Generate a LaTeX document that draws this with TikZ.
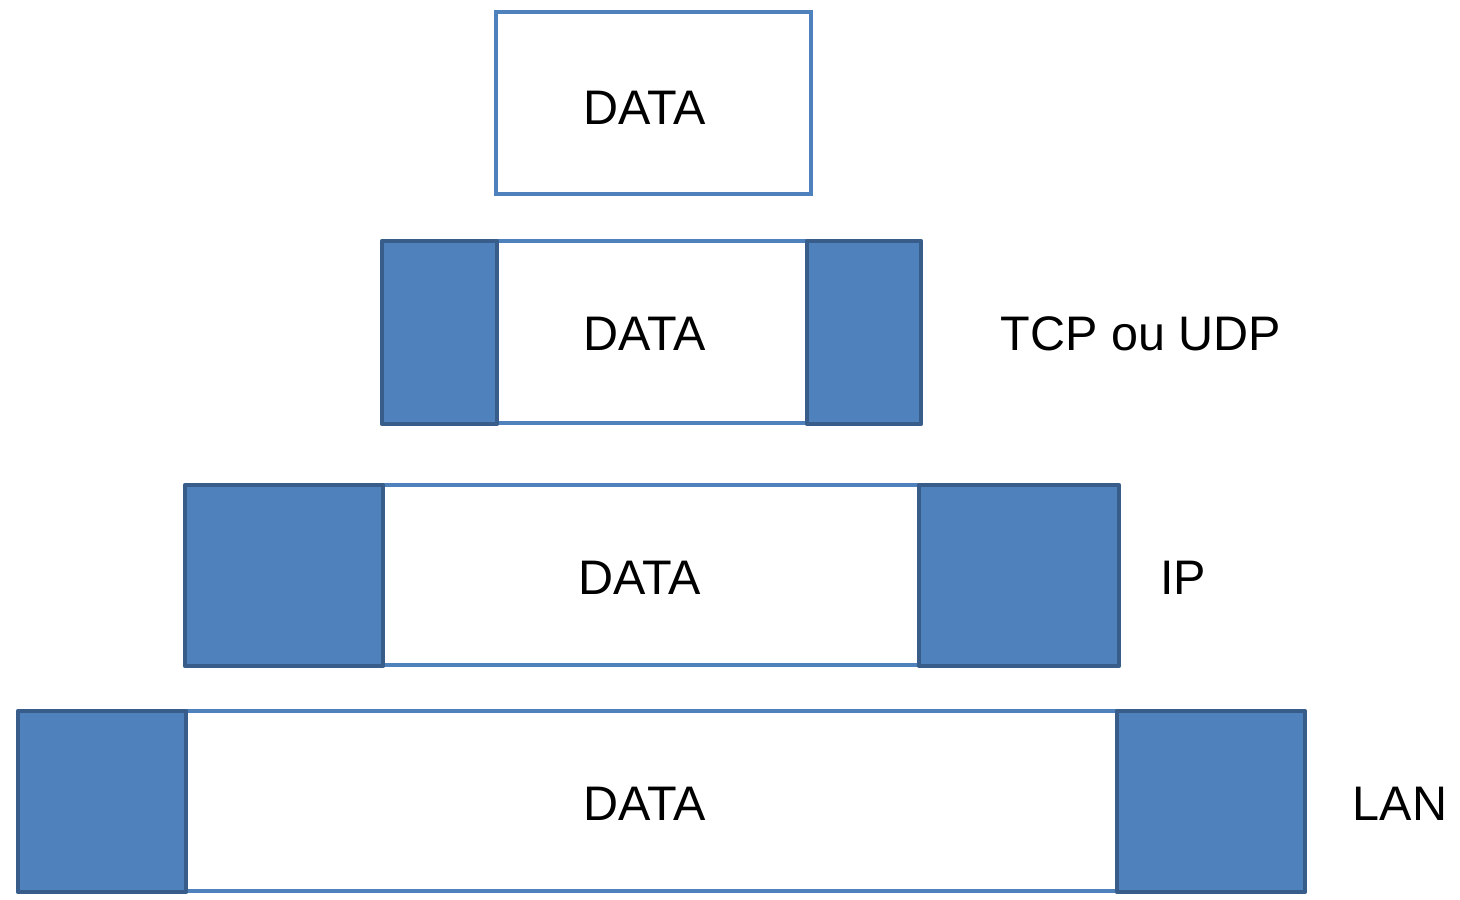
\documentclass[tikz,border=0pt]{standalone}
\usepackage{fontspec}
\setmainfont{Liberation Sans}
\definecolor{fillblue}{HTML}{4F81BD}
\definecolor{darkblue}{HTML}{385D8A}
\begin{document}
\begin{tikzpicture}[x=1pt,y=-1pt,
  databox/.style={draw=fillblue,line width=3.5pt,fill=white},
  hdrbox/.style={draw=darkblue,line width=4.5pt,fill=fillblue,line join=round},
  txt/.style={font=\fontsize{48.5}{58}\selectfont,anchor=base,inner sep=0pt}]
\useasboundingbox (0,0) rectangle (1460,900);
% row 1
\draw[databox] (496,12) rectangle (811,194);
\node[txt] (d1) at (645,124) {DATA};
% row 2
\draw[databox] (497,241) rectangle (807,423);
\draw[hdrbox] (382,241) rectangle (497,424);
\draw[hdrbox] (807,241) rectangle (921,424);
\node[txt] (d2) at (645,350) {DATA};
\node[txt] (l2) at (1141,350) {TCP ou UDP};
% row 3
\draw[databox] (383,485) rectangle (919,665);
\draw[hdrbox] (185,485) rectangle (383,666);
\draw[hdrbox] (919,485) rectangle (1119,666);
\node[txt] (d3) at (640,594) {DATA};
\node[txt] (l3) at (1183,594) {IP};
% row 4
\draw[databox] (186,711) rectangle (1117,891);
\draw[hdrbox] (18,711) rectangle (186,892);
\draw[hdrbox] (1117,711) rectangle (1305,892);
\node[txt] (d4) at (645,820) {DATA};
\node[txt] (l4) at (1400,820) {LAN};
\end{tikzpicture}
\end{document}
